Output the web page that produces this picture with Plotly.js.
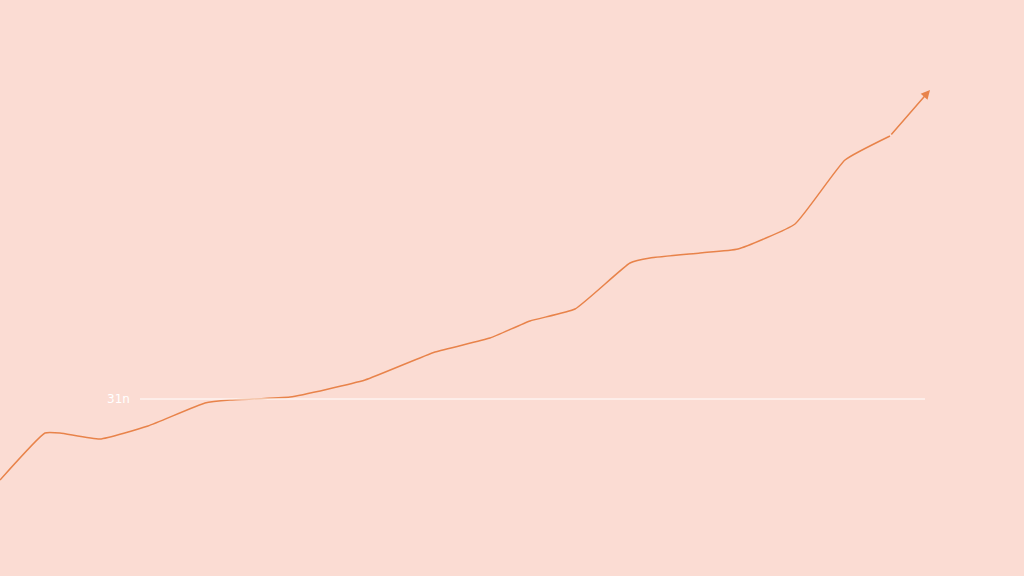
<!DOCTYPE html>
<html><head><meta charset="utf-8">
<script src="https://cdn.plot.ly/plotly-3.0.1.min.js"></script>
<style>html,body{margin:0;padding:0;background:#fbdcd3;}#chart{width:1024px;height:576px;}</style>
</head><body><div id="chart"></div>
<script>
const xs = [0, 45, 60, 100, 148, 205, 230, 290, 365, 435, 490, 530, 575, 630, 650, 700, 738, 795, 845, 890];
const ys = [96, 143, 143, 137, 150, 173, 176, 179, 196, 224, 238, 255, 267, 313, 318, 323, 327, 352, 416, 440];
const arrowEnd = [930, 486];
const refValue = 177;
const refStart = 140, refEnd = 925;
const refLabel = "31n";

const data = [{
  x: xs, y: ys, mode: 'lines', type: 'scatter',
  line: {color: '#e8834a', width: 1.5, shape: 'spline', smoothing: 0.4}, hoverinfo: 'skip'
}];
const layout = {
  width: 1024, height: 576,
  margin: {l: 0, r: 0, t: 0, b: 0},
  paper_bgcolor: '#fbdcd3', plot_bgcolor: '#fbdcd3',
  showlegend: false,
  xaxis: {range: [0, 1024], visible: false, fixedrange: true},
  yaxis: {range: [0, 576], visible: false, fixedrange: true},
  shapes: [{type: 'line', x0: refStart, x1: refEnd, y0: refValue, y1: refValue,
    line: {color: '#ffffff', width: 1}}],
  annotations: [
    {x: arrowEnd[0], y: arrowEnd[1], ax: xs[xs.length-1], ay: ys[ys.length-1],
     axref: 'x', ayref: 'y', xref: 'x', yref: 'y', showarrow: true, text: '',
     arrowhead: 2, arrowsize: 1.2, arrowwidth: 1.5, arrowcolor: '#e8834a'},
    {x: refStart - 8, y: refValue, xref: 'x', yref: 'y', text: refLabel, showarrow: false,
     xanchor: 'right', font: {color: '#ffffff', size: 12, family: 'DejaVu Sans'}}
  ]
};
Plotly.newPlot('chart', data, layout, {displayModeBar: false, staticPlot: true});
</script></body></html>
